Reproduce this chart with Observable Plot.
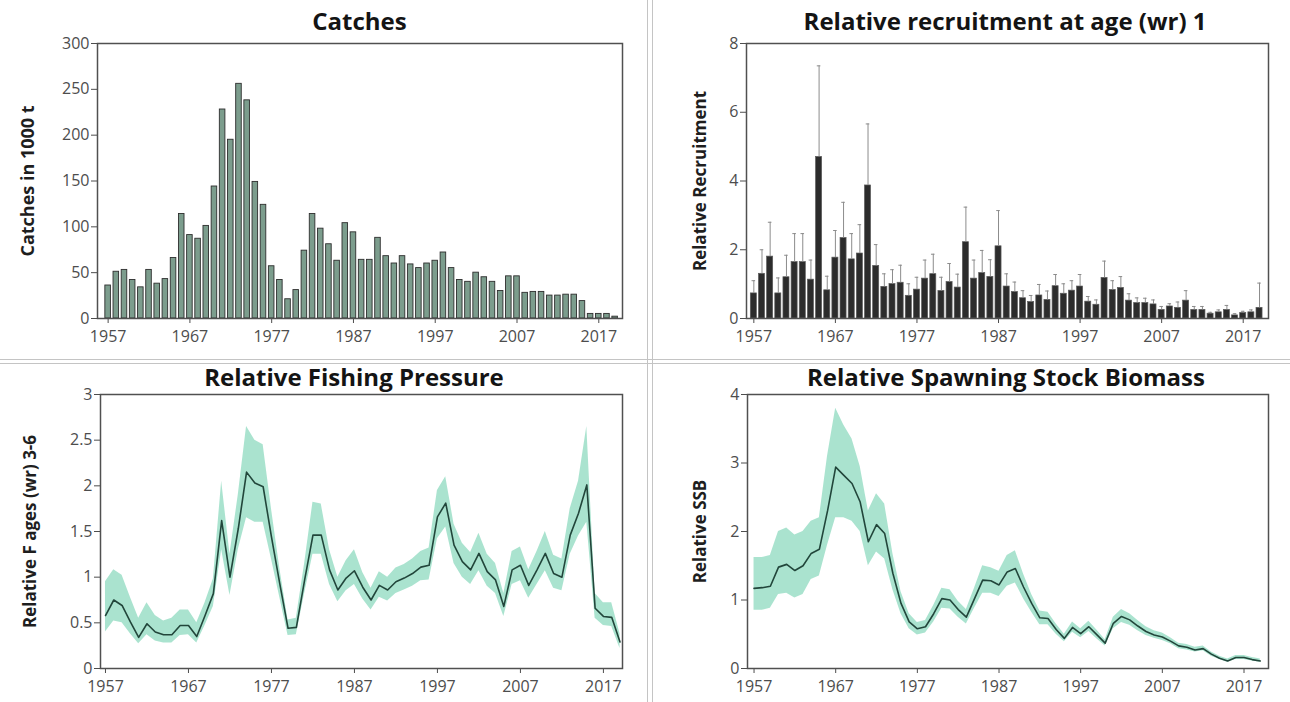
<!DOCTYPE html>
<html><head><meta charset="utf-8">
<script src="https://cdn.jsdelivr.net/npm/d3@7"></script>
<script src="https://cdn.jsdelivr.net/npm/@observablehq/plot@0.6"></script>
<style>
body{margin:0;background:#fff;width:1290px;height:702px;position:relative;overflow:hidden;font-family:"Open Sans",sans-serif}
.panel{position:absolute}
.panel svg{position:absolute;left:0;top:0;overflow:visible}
.title{position:absolute;text-align:center;font-weight:700;font-size:24px;color:#141414;z-index:2;line-height:28px;white-space:nowrap}
.sep{position:absolute;background:#c4c4c4}
</style></head><body>
<div class="sep" style="left:647px;top:0;width:1px;height:702px"></div>
<div class="sep" style="left:652px;top:0;width:1px;height:702px"></div>
<div class="sep" style="left:0;top:359px;width:1290px;height:1px"></div>
<div class="sep" style="left:0;top:363px;width:1290px;height:1px"></div>
<div id="p1" class="panel" style="left:0;top:0;width:646px;height:357px"><div class="title" style="top:7px;left:97px;right:24px">Catches</div></div>
<div id="p2" class="panel" style="left:652px;top:0;width:638px;height:357px"><div class="title" style="top:7px;left:90px;right:22px">Relative recruitment at age (wr) 1</div></div>
<div id="p3" class="panel" style="left:0;top:361px;width:646px;height:341px"><div class="title" style="top:2px;left:86px;right:24px">Relative Fishing Pressure</div></div>
<div id="p4" class="panel" style="left:652px;top:361px;width:638px;height:341px"><div class="title" style="top:2px;left:92px;right:22px">Relative Spawning Stock Biomass</div></div>
<script>
const years = d3.range(1957, 2020);
const yearTicks = [1957, 1967, 1977, 1987, 1997, 2007, 2017];

const catches = [36,51,53,42,34,53,38,43,66,114,
  91,87,101,144,228,195,256,238,149,124,
  57,42,21,31,74,114,98,81,63,104,
  94,64,64,88,68,60,68,59,55,60,
  63,72,55,42,40,50,45,40,30,46,
  46,28,29,29,25,25,26,26,19,5,
  5,5,2];
const catchTicks = [0,50,100,150,200,250,300];

const recruit = [0.73,1.3,1.8,0.73,1.2,1.64,1.64,1.13,4.7,0.82,
  1.77,2.34,1.72,1.89,3.87,1.53,0.92,1.0,1.04,0.66,
  0.84,1.16,1.29,0.8,1.06,0.9,2.22,1.16,1.32,1.21,
  2.1,0.93,0.77,0.59,0.48,0.67,0.54,0.94,0.72,0.81,
  0.93,0.49,0.4,1.18,0.83,0.89,0.52,0.45,0.45,0.41,
  0.25,0.35,0.31,0.52,0.25,0.25,0.14,0.18,0.25,0.09,
  0.16,0.18,0.31];
const recruitHi = [1.1,2.0,2.8,1.18,1.84,2.47,2.47,1.7,7.35,1.23,
  2.56,3.38,2.47,2.73,5.66,2.15,1.3,1.42,1.55,1.01,
  1.2,1.7,1.87,1.2,1.6,1.29,3.24,1.7,1.98,1.71,
  3.14,1.3,1.06,0.81,0.67,0.99,0.8,1.28,1.01,1.1,
  1.28,0.64,0.54,1.67,1.1,1.22,0.72,0.6,0.59,0.54,
  0.35,0.43,0.48,0.81,0.35,0.35,0.18,0.25,0.38,0.14,
  0.21,0.25,1.03];
const recruitTicks = [0,2,4,6,8];

const fbar = [0.58,0.75,0.69,0.51,0.34,0.49,0.40,0.37,0.37,0.47,
  0.47,0.35,0.58,0.82,1.62,1.0,1.53,2.15,2.03,1.99,
  1.44,0.93,0.44,0.45,0.97,1.46,1.46,1.08,0.86,0.99,
  1.07,0.89,0.75,0.91,0.86,0.95,0.99,1.04,1.11,1.13,
  1.66,1.81,1.35,1.17,1.08,1.26,1.06,0.97,0.68,1.08,
  1.13,0.91,1.08,1.26,1.04,1.0,1.46,1.70,2.01,0.66,
  0.57,0.56,0.29];
const fHi = [0.95,1.08,1.02,0.78,0.55,0.72,0.58,0.52,0.55,0.64,
  0.64,0.5,0.72,0.98,2.05,1.25,1.9,2.65,2.5,2.45,
  1.75,1.1,0.53,0.55,1.15,1.82,1.8,1.3,1.0,1.18,
  1.3,1.05,0.88,1.06,1.0,1.1,1.14,1.2,1.28,1.32,
  1.95,2.1,1.58,1.37,1.27,1.48,1.25,1.15,0.82,1.28,
  1.33,1.08,1.28,1.5,1.24,1.2,1.75,2.05,2.65,0.82,
  0.72,0.72,0.38];
const fLo = [0.4,0.52,0.5,0.38,0.27,0.37,0.3,0.28,0.28,0.36,
  0.37,0.28,0.47,0.68,1.3,0.8,1.3,1.65,1.6,1.6,
  1.2,0.78,0.36,0.37,0.82,1.25,1.25,0.92,0.73,0.85,
  0.92,0.76,0.64,0.78,0.74,0.82,0.86,0.9,0.96,0.97,
  1.42,1.55,1.15,1.0,0.92,1.07,0.9,0.82,0.57,0.92,
  0.96,0.77,0.92,1.07,0.88,0.85,1.25,1.45,1.6,0.55,
  0.47,0.46,0.22];
const fTicks = [0,0.5,1,1.5,2,2.5,3];

const ssb = [1.17,1.18,1.2,1.48,1.52,1.43,1.5,1.68,1.74,2.3,
  2.94,2.82,2.7,2.43,1.85,2.1,1.97,1.39,0.95,0.68,
  0.58,0.61,0.8,1.02,1.0,0.86,0.75,1.02,1.29,1.28,
  1.22,1.41,1.46,1.19,0.95,0.74,0.73,0.57,0.44,0.6,
  0.51,0.61,0.49,0.37,0.66,0.76,0.71,0.62,0.54,0.49,
  0.46,0.40,0.33,0.31,0.27,0.29,0.21,0.15,0.11,0.16,
  0.16,0.13,0.11];
const ssbHi = [1.62,1.62,1.65,2.0,2.05,1.95,2.0,2.15,2.2,3.1,
  3.8,3.55,3.35,2.95,2.3,2.55,2.4,1.68,1.12,0.8,
  0.67,0.7,0.92,1.17,1.15,0.98,0.86,1.17,1.5,1.47,
  1.42,1.65,1.72,1.38,1.08,0.84,0.82,0.65,0.5,0.68,
  0.58,0.69,0.56,0.42,0.75,0.86,0.8,0.7,0.61,0.55,
  0.52,0.45,0.37,0.35,0.31,0.33,0.24,0.18,0.14,0.19,
  0.19,0.16,0.14];
const ssbLo = [0.85,0.85,0.88,1.08,1.1,1.03,1.08,1.3,1.35,1.8,
  2.2,2.2,2.15,2.0,1.5,1.7,1.6,1.15,0.8,0.58,
  0.49,0.52,0.68,0.88,0.87,0.75,0.65,0.88,1.1,1.1,
  1.05,1.2,1.25,1.02,0.82,0.64,0.64,0.5,0.39,0.53,
  0.45,0.54,0.43,0.33,0.58,0.67,0.63,0.55,0.48,0.44,
  0.41,0.36,0.29,0.27,0.24,0.26,0.18,0.13,0.09,0.13,
  0.13,0.11,0.09];
const ssbTicks = [0,1,2,3,4];

const catchData = years.map((year, i) => ({year, value: catches[i]}));
const recData = years.map((year, i) => ({year, value: recruit[i], hi: recruitHi[i]}));
const fData = years.map((year, i) => ({year, value: fbar[i], lo: fLo[i], hi: fHi[i]}));
const ssbData = years.map((year, i) => ({year, value: ssb[i], lo: ssbLo[i], hi: ssbHi[i]}));

const baseStyle = {fontFamily: "Open Sans, sans-serif", fontSize: "16px", color: "#4d4d4d", background: "transparent", overflow: "visible"};

function axes(yTicks, ylabel, labelDx, labelSize) {
  return [
    Plot.axisY({ticks: yTicks, tickFormat: d3.format("~g"), tickSize: 6, tickPadding: 2, label: null}),
    Plot.axisX({ticks: yearTicks, tickFormat: d => String(d), tickSize: 5, tickPadding: 7, label: null}),
    Plot.frame({stroke: "#505050", strokeWidth: 1.5}),
    Plot.text([ylabel], {frameAnchor: "left", dx: -labelDx, rotate: -90, text: d => d,
      textAnchor: "middle", lineAnchor: "middle",
      fontWeight: "bold", fontSize: labelSize, fill: "#1e1e1e"})
  ];
}

const p1 = Plot.plot({
  width: 646, height: 357, marginLeft: 97, marginRight: 24, marginTop: 43, marginBottom: 39,
  style: baseStyle,
  x: {type: "linear", domain: [1955.7, 2019.9]},
  y: {domain: [0, 300]},
  marks: [
    Plot.rectY(catchData, {x1: d => d.year - 0.34, x2: d => d.year + 0.34, y: "value",
      fill: "#7c9d8d", stroke: "#2e2e2e", strokeWidth: 0.9}),
    ...axes(catchTicks, "Catches in 1000 t", 69, 18)
  ]
});
document.getElementById("p1").appendChild(p1);

const p2 = Plot.plot({
  width: 638, height: 357, marginLeft: 94, marginRight: 22, marginTop: 43, marginBottom: 39,
  style: baseStyle,
  x: {type: "linear", domain: [1956.1, 2020.1]},
  y: {domain: [0, 8]},
  marks: [
    Plot.rectY(recData, {x1: d => d.year - 0.37, x2: d => d.year + 0.37, y: "value",
      fill: "#2c2c2c", stroke: "#5a5a5a", strokeWidth: 0.7}),
    Plot.ruleX(recData, {x: "year", y1: "value", y2: "hi", stroke: "#8c8c8c", strokeWidth: 1}),
    Plot.ruleY(recData, {y: "hi", x1: d => d.year - 0.22, x2: d => d.year + 0.22, stroke: "#8c8c8c", strokeWidth: 1}),
    ...axes(recruitTicks, "Relative Recruitment", 46, 17)
  ]
});
document.getElementById("p2").appendChild(p2);

const p3 = Plot.plot({
  width: 646, height: 341, marginLeft: 100, marginRight: 24, marginTop: 33, marginBottom: 34,
  style: baseStyle,
  x: {type: "linear", domain: [1956.4, 2019.3]},
  y: {domain: [0, 3]},
  marks: [
    Plot.areaY(fData, {x: "year", y1: "lo", y2: "hi", fill: "#95dcc3", fillOpacity: 0.8}),
    Plot.lineY(fData, {x: "year", y: "value", stroke: "#22463b", strokeWidth: 1.6}),
    ...axes(fTicks, "Relative F ages (wr) 3-6", 70, 17)
  ]
});
document.getElementById("p3").appendChild(p3);

const p4 = Plot.plot({
  width: 638, height: 341, marginLeft: 95, marginRight: 22, marginTop: 33, marginBottom: 34,
  style: baseStyle,
  x: {type: "linear", domain: [1956.2, 2020.0]},
  y: {domain: [0, 4]},
  marks: [
    Plot.areaY(ssbData, {x: "year", y1: "lo", y2: "hi", fill: "#95dcc3", fillOpacity: 0.8}),
    Plot.lineY(ssbData, {x: "year", y: "value", stroke: "#22463b", strokeWidth: 1.6}),
    ...axes(ssbTicks, "Relative SSB", 47, 17)
  ]
});
document.getElementById("p4").appendChild(p4);
</script>
</body></html>
